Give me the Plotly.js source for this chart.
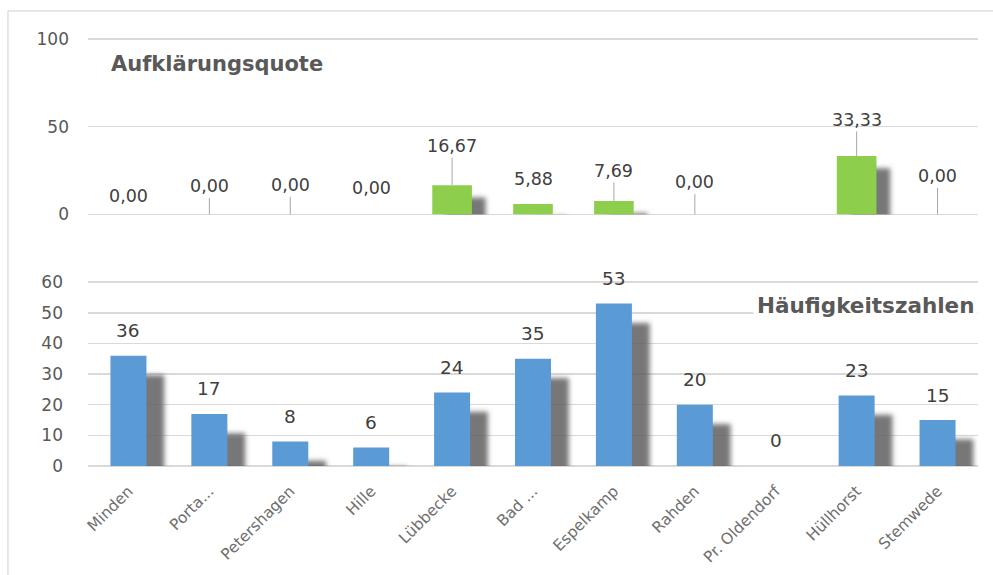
<!DOCTYPE html>
<html>
<head>
<meta charset="utf-8">
<script src="https://cdn.plot.ly/plotly-3.0.1.min.js"></script>
<style>html,body{margin:0;padding:0;background:#fff;}#chart{width:993px;height:575px;}</style>
</head>
<body>
<div id="chart"></div>
<script>
// ---- data ----
const categories = ["Minden", "Porta...", "Petershagen", "Hille", "Lübbecke", "Bad ...", "Espelkamp", "Rahden", "Pr. Oldendorf", "Hüllhorst", "Stemwede"];
const aufklaerungsquote = [0, 0, 0, 0, 16.67, 5.88, 7.69, 0, null, 33.33, 0];
const haeufigkeitszahlen = [36, 17, 8, 6, 24, 35, 53, 20, 0, 23, 15];
const topTitle = "Aufklärungsquote";
const bottomTitle = "Häufigkeitszahlen";

// ---- styling ----
const BLUE = "#5B9BD5", GREEN = "#8DCF4C", GRID = "#d9d9d9";
const FONT = "DejaVu Sans, Verdana, sans-serif";
const topLabelOffsets = [-18, -28, -29, -26, -39, -25, -30, -32, 0, -36, -38];
const topLeader = [false, true, true, false, true, false, true, true, false, true, true];
const SHADOW = "rgba(95,95,95,0.85)";

function fmt(v) { return v.toFixed(2).replace(".", ","); }

const traces = [];
traces.push({type: "bar", x: categories, y: aufklaerungsquote, base: -7,
  xaxis: "x", yaxis: "y", width: 0.49, offset: -0.245 + 0.17,
  marker: {color: SHADOW, line: {width: 0}}, hoverinfo: "skip", showlegend: false});
traces.push({type: "bar", x: categories, y: aufklaerungsquote, xaxis: "x", yaxis: "y", width: 0.49, offset: -0.245,
  marker: {color: GREEN, line: {width: 0}}, showlegend: false});
traces.push({type: "bar", x: categories, y: haeufigkeitszahlen, base: -6.3,
  xaxis: "x2", yaxis: "y2", width: 0.445, offset: -0.2225 + 0.22,
  marker: {color: SHADOW, line: {width: 0}}, hoverinfo: "skip", showlegend: false});
traces.push({type: "bar", x: categories, y: haeufigkeitszahlen, xaxis: "x2", yaxis: "y2", width: 0.445, offset: -0.2225,
  marker: {color: BLUE, line: {width: 0}}, showlegend: false});

const annotations = [];
aufklaerungsquote.forEach((v, i) => {
  if (v === null) return;
  const a = {x: categories[i], y: v, xref: "x", yref: "y", text: fmt(v),
    font: {family: FONT, size: 17.5, color: "#404040"}};
  if (topLeader[i]) {
    Object.assign(a, {showarrow: true, ax: 0, ay: topLabelOffsets[i], arrowhead: 0, arrowwidth: 1,
      arrowcolor: "#a6a6a6", standoff: 0, startstandoff: 0});
  } else {
    Object.assign(a, {showarrow: false, yshift: -topLabelOffsets[i]});
  }
  annotations.push(a);
});
haeufigkeitszahlen.forEach((v, i) => {
  annotations.push({x: categories[i], y: v, xref: "x2", yref: "y2", text: String(v), showarrow: false,
    yanchor: "middle", yshift: 25, font: {family: FONT, size: 18.5, color: "#404040"}});
});
annotations.push({xref: "paper", yref: "paper", x: 0.024, y: 0.937, xanchor: "left", yanchor: "middle",
  text: "<b>" + topTitle + "</b>", showarrow: false,
  font: {family: FONT, size: 21, color: "#595959"}});
annotations.push({xref: "paper", yref: "paper", x: 1.0, y: 0.375, xanchor: "right", yanchor: "middle",
  text: "<b>" + bottomTitle + "</b>", showarrow: false, bgcolor: "#ffffff", borderpad: 3,
  font: {family: FONT, size: 21.5, color: "#595959"}});

const layout = {
  width: 993, height: 575,
  margin: {l: 88, r: 15, t: 37, b: 109},
  paper_bgcolor: "#ffffff", plot_bgcolor: "#ffffff",
  showlegend: false,
  barmode: "overlay",
  font: {family: FONT, color: "#595959"},
  xaxis: {domain: [0, 1], anchor: "y", type: "category", showticklabels: false, showgrid: false,
    zeroline: false, showline: false, ticks: "", range: [-0.5, 10.5]},
  yaxis: {domain: [0.5864, 1], range: [0, 101], tickvals: [0, 50, 100], showgrid: true, gridcolor: GRID,
    gridwidth: 1.5, zeroline: true, zerolinecolor: GRID, zerolinewidth: 1.5, showline: false, ticks: "",
    ticklabelstandoff: 18, tickfont: {size: 17, color: "#595959"}},
  xaxis2: {domain: [0, 1], anchor: "y2", type: "category", showgrid: false, zeroline: false, showline: false,
    ticks: "", tickangle: -45, ticklabelstandoff: 12, range: [-0.5, 10.5],
    tickfont: {size: 15.5, color: "#6f6f6f"}},
  yaxis2: {domain: [0, 0.4322], range: [0, 60.5], dtick: 10, showgrid: true, gridcolor: GRID, gridwidth: 1.5,
    zeroline: true, zerolinecolor: GRID, zerolinewidth: 1.5, showline: false, ticks: "",
    ticklabelstandoff: 24, tickfont: {size: 17, color: "#595959"}},
  annotations: annotations,
  shapes: [{type: "rect", xref: "paper", yref: "paper", x0: -0.0899, x1: 1.2, y0: -0.5, y1: 1.0607,
    line: {color: "#d0d0d0", width: 1}, fillcolor: "rgba(0,0,0,0)", layer: "below"}]
};

const gd = document.getElementById("chart");
Plotly.newPlot(gd, traces, layout, {displayModeBar: false, staticPlot: true}).then(() => {
  const ns = "http://www.w3.org/2000/svg";
  const svg = gd.querySelector("svg.main-svg");
  let defs = svg.querySelector("defs");
  if (!defs) { defs = document.createElementNS(ns, "defs"); svg.insertBefore(defs, svg.firstChild); }
  const f = document.createElementNS(ns, "filter");
  f.setAttribute("id", "shadowBlur");
  f.setAttribute("x", "-50%"); f.setAttribute("y", "-50%");
  f.setAttribute("width", "200%"); f.setAttribute("height", "200%");
  const b = document.createElementNS(ns, "feGaussianBlur");
  b.setAttribute("stdDeviation", "2.5");
  f.appendChild(b); defs.appendChild(f);
  gd.querySelectorAll(".barlayer").forEach(layer => {
    const t = layer.querySelector(".trace");
    if (t) t.setAttribute("filter", "url(#shadowBlur)");
  });
});
</script>
</body>
</html>
